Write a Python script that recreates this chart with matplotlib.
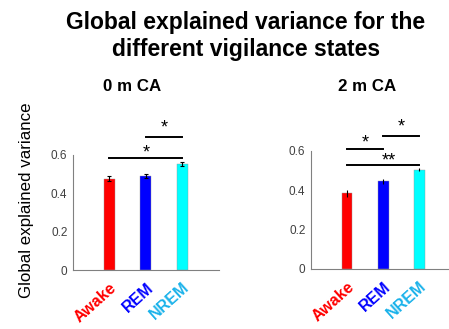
import matplotlib.pyplot as plt
import numpy as np

states = ['Awake', 'REM', 'NREM']
state_colors = ['#ff0000', '#0000ff', '#00ffff']
label_colors = ['#ff0000', '#0000ff', '#1ab2ea']

gev_0m = [0.477, 0.490, 0.553]
err_0m = [0.012, 0.010, 0.010]
gev_2m = [0.385, 0.445, 0.505]
err_2m = [0.018, 0.012, 0.008]

# significance bars: (from, to, height, label)
sig_0m = [(1, 3, 0.584, '*'), (2, 3, 0.694, '*')]
sig_2m = [(1, 2, 0.610, '*'), (2, 3, 0.676, '*'), (1, 3, 0.529, '**')]
# small nudges (points) of the star text above each bar
star_dy_0m = [-2.5, 0.4]
star_dy_2m = [-1.8, 0.4, -3.2]

plt.rcParams['font.family'] = ['Liberation Sans', 'DejaVu Sans']

fig = plt.figure(figsize=(4.49, 3.29), dpi=100)

def panel(rect, vals, errs, sigs, dys, xmax, caps):
    ax = fig.add_axes(rect)
    x = np.arange(1, len(vals) + 1)
    ax.bar(x, vals, width=0.3, color=state_colors, edgecolor='#999999', linewidth=0.3)
    ax.errorbar(x, vals, yerr=errs, fmt='none', ecolor='black', elinewidth=0.8,
                capsize=caps, capthick=0.8)
    for (a, b, h, s), dy in zip(sigs, dys):
        ax.plot([a, b], [h, h], color='black', lw=1.4, clip_on=False)
        xm = (a + b) / 2 + (0.15 if s == '**' else 0)
        ax.annotate(s, xy=(xm, h), xytext=(0, dy), textcoords='offset points',
                    ha='center', va='bottom', fontsize=13, annotation_clip=False)
    ax.set_xlim(0, xmax)
    ax.set_ylim(0, 0.6)
    ax.set_yticks([0, 0.2, 0.4, 0.6])
    ax.set_yticklabels(['0', '0.2', '0.4', '0.6'])
    ax.set_xticks(x)
    ax.set_xticklabels(states, rotation=42, ha='right', va='top',
                       rotation_mode='anchor', fontsize=11.5, fontweight='bold')
    for lab, c in zip(ax.get_xticklabels(), label_colors):
        lab.set_color(c)
    ax.tick_params(axis='y', length=0, labelsize=8.5, labelcolor='#404040', pad=4)
    ax.tick_params(axis='x', length=0, pad=7)
    ax.spines['top'].set_visible(False)
    ax.spines['right'].set_visible(False)
    ax.spines['left'].set_color('#808080')
    ax.spines['bottom'].set_color('#808080')
    return ax

ax1 = panel([0.1626, 0.179, 0.325, 0.35], gev_0m, err_0m, sig_0m, star_dy_0m, 4.0, 1.5)
ax2 = panel([0.6927, 0.1824, 0.305, 0.3587], gev_2m, err_2m, sig_2m, star_dy_2m, 3.8, 0)

ax1.set_ylabel('Global explained variance', fontsize=12.2)
ax1.yaxis.set_label_coords(-0.27, 0.61)

fig.text(132 / 449, 1 - 87 / 329, '0 m CA', ha='center', va='center',
         fontsize=12.2, fontweight='bold')
fig.text(367 / 449, 1 - 87 / 329, '2 m CA', ha='center', va='center',
         fontsize=12.2, fontweight='bold')
fig.text(246 / 449, 1 - 36 / 329, 'Global explained variance for the\ndifferent vigilance states',
         ha='center', va='center', fontsize=16.5, fontweight='bold', linespacing=1.2)

fig.savefig('out.png', dpi=100)
